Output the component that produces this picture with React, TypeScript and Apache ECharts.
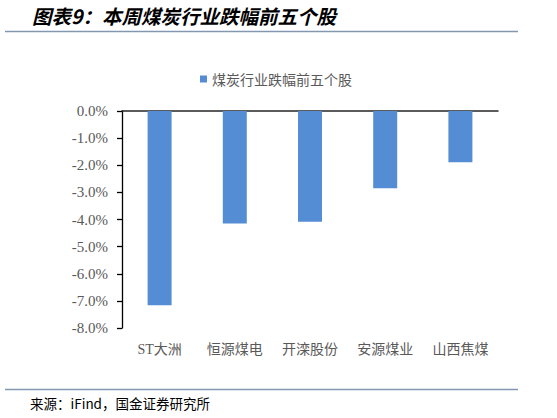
import { useEffect, useRef } from 'react';
import * as echarts from 'echarts';

const titleText = '图表9：本周煤炭行业跌幅前五个股';
const sourceText = '来源：iFind，国金证券研究所';
const seriesName = '煤炭行业跌幅前五个股';

const categories = ['ST大洲', '恒源煤电', '开滦股份', '安源煤业', '山西焦煤'];
const declines = [-7.16, -4.15, -4.08, -2.85, -1.89];

const yAxisMin = -8;
const yAxisMax = 0;
const yAxisInterval = 1;

const labelGrey = '#595959';
const barBlue = '#548DD4';
const ruleColor = '#8497B0';
const cjkFont = "'Noto Sans CJK SC', sans-serif";
const serifFont = "'Times New Roman', 'Liberation Serif', 'Noto Sans CJK SC', serif";

export default function App() {
  const chartContainerRef = useRef<HTMLDivElement | null>(null);

  useEffect(() => {
    if (!chartContainerRef.current) {
      return;
    }

    const chart = echarts.init(chartContainerRef.current, undefined, { renderer: 'svg' });

    chart.setOption({
      animation: false,
      backgroundColor: '#ffffff',
      grid: {
        left: 122,
        right: 59,
        top: 111,
        bottom: 90,
        containLabel: false,
      },
      legend: {
        data: [{ name: seriesName, icon: 'rect' }],
        left: 195,
        top: 67,
        itemWidth: 7,
        itemHeight: 7,
        textStyle: {
          color: labelGrey,
          fontSize: 14,
          fontFamily: cjkFont,
        },
      },
      xAxis: [
        {
          type: 'category',
          data: categories,
          position: 'bottom',
          axisLine: { show: false },
          axisTick: { show: false },
          axisLabel: {
            margin: 14,
            color: labelGrey,
            fontSize: 14,
            fontFamily: serifFont,
          },
        },
        {
          type: 'category',
          data: categories,
          position: 'top',
          axisLine: { show: true, lineStyle: { color: '#262626', width: 1.5 } },
          axisTick: { show: false },
          axisLabel: { show: false },
        },
      ],
      yAxis: {
        type: 'value',
        min: yAxisMin,
        max: yAxisMax,
        interval: yAxisInterval,
        axisLine: { show: true, lineStyle: { color: '#000000', width: 1.3 } },
        axisTick: { show: true, length: 5, lineStyle: { color: '#000000', width: 1.3 } },
        splitLine: { show: false },
        axisLabel: {
          margin: 14,
          color: labelGrey,
          fontSize: 15,
          fontFamily: serifFont,
          formatter: (v: number) => `${v.toFixed(1)}%`,
        },
      },
      series: [
        {
          name: seriesName,
          type: 'bar',
          xAxisIndex: 0,
          barWidth: 24,
          data: declines,
          itemStyle: { color: barBlue },
        },
      ],
      graphic: [
        {
          type: 'text',
          left: 32,
          top: 6,
          style: {
            text: titleText,
            fill: '#000000',
            font: `italic bold 19.5px ${cjkFont}`,
          },
        },
        {
          type: 'line',
          shape: { x1: 5, y1: 31.5, x2: 518, y2: 31.5 },
          style: { stroke: ruleColor, lineWidth: 1.3 },
        },
        {
          type: 'line',
          shape: { x1: 5, y1: 389.5, x2: 518, y2: 389.5 },
          style: { stroke: ruleColor, lineWidth: 1.3 },
        },
        {
          type: 'text',
          left: 30,
          top: 396,
          style: {
            text: sourceText,
            fill: '#000000',
            font: `13.5px ${cjkFont}`,
          },
        },
      ],
    });

    return () => {
      chart.dispose();
    };
  }, []);

  return (
    <div
      ref={chartContainerRef}
      style={{ position: 'fixed', left: 0, top: 0, width: 557, height: 418 }}
    />
  );
}
